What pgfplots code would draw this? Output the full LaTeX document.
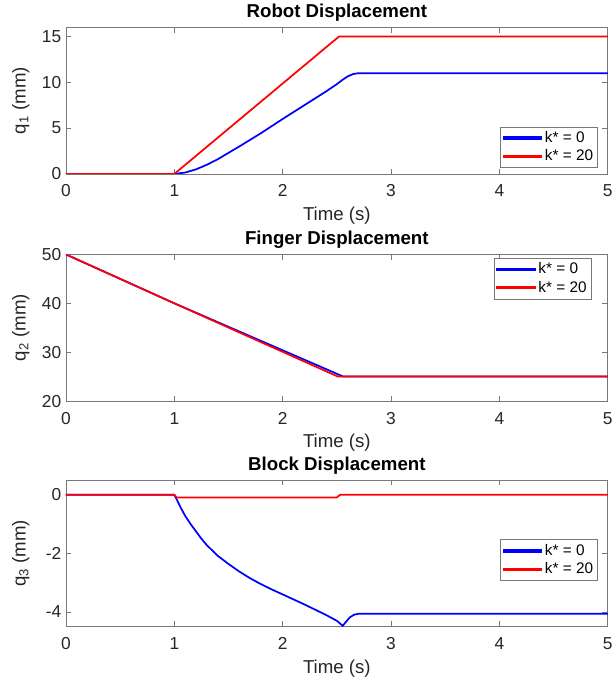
\documentclass[border=0pt]{standalone}
\usepackage{fontspec}
\setmainfont{Liberation Sans}
\usepackage{pgfplots}
\pgfplotsset{compat=1.18}

\definecolor{axgray}{RGB}{38,38,38}
\definecolor{boxgray}{RGB}{120,120,120}

\pgfplotsset{
  matlab/.style={
    scale only axis,
    width=406.5pt, height=110pt,
    xmin=0, xmax=5,
    xtick={0,1,2,3,4,5},
    axis line style={boxgray, line width=0.6pt},
    tick style={boxgray, line width=0.6pt},
    tick align=inside,
    major tick length=4pt,
    xtick pos=both, ytick pos=both,
    ticklabel style={font=\fontsize{13}{15}\selectfont, text=axgray},
    xticklabel style={anchor=base, yshift=-17.3pt},
    /pgf/number format/assume math mode=true,
    xlabel={Time (s)},
    every axis x label/.style={at={(axis description cs:0.5,0)}, anchor=base,
      yshift=-35pt, font=\fontsize{14}{16}\selectfont, text=axgray},
    every axis y label/.style={at={(axis description cs:-0.0836,0.5)}, anchor=center,
      rotate=90, font=\fontsize{14}{16}\selectfont, text=axgray},
    every axis title/.style={at={(axis description cs:0.5,1)}, anchor=base,
      yshift=7.5pt, font=\fontsize{14}{16}\selectfont\bfseries},
    legend style={font=\fontsize{11.5}{13}\selectfont, draw=boxgray,
      inner sep=1.5pt, row sep=0pt, cells={anchor=west}},
    % legend line drawn as a thin filled bar in the plot's colour
    legend image code/.code={\fill[##1] (0pt,-0.6pt) rectangle (28.5pt,0.6pt);},
    every axis plot/.append style={line width=1.3pt},
  }
}

\begin{document}
\begin{tikzpicture}
\useasboundingbox (-49.5pt,-41.5pt) rectangle (410.25pt,470.2pt);
% Robot displacement
\begin{axis}[matlab, at={(0,339.7pt)},
  title={Robot Displacement},
  ylabel={q\textsubscript{1} (mm)},
  ymin=0, ymax=16, ytick={0,5,10,15},
  legend style={at={(0.982,0.041)}, anchor=south east}]
\addplot[color=blue] coordinates {
  (0,0) (1.0,0) (1.1,0.15) (1.2,0.5) (1.3,1.0) (1.4,1.6) (1.5,2.3) (1.6,3.0)
  (1.8,4.45) (2.0,6.0) (2.2,7.5) (2.4,9.0) (2.5,9.8) (2.55,10.25) (2.6,10.65)
  (2.65,10.9) (2.7,11.0) (5,11.0)};
\addlegendentry{k* = 0}
\addplot[color=red] coordinates {
  (0,0) (1.0,0) (2.52,15) (5,15)};
\addlegendentry{k* = 20}
\end{axis}

% Finger displacement
\begin{axis}[matlab, at={(0,169.3pt)},
  title={Finger Displacement},
  ylabel={q\textsubscript{2} (mm)},
  ymin=20, ymax=50, ytick={20,30,40,50},
  legend style={at={(0.97,0.977)}, anchor=north east}]
\addplot[color=blue] coordinates {
  (0,50) (1.0,40) (2.56,25) (5,25)};
\addlegendentry{k* = 0}
\addplot[color=red] coordinates {
  (0,50) (1.0,40) (2.51,25) (5,25)};
\addlegendentry{k* = 20}
\end{axis}

% Block displacement
\begin{axis}[matlab, at={(0,0)},
  title={Block Displacement},
  ylabel={q\textsubscript{3} (mm)},
  ymin=-4.5, ymax=0.5, ytick={-4,-2,0},
  legend style={at={(0.982,0.595)}, anchor=north east}]
\addplot[color=blue] coordinates {
  (0,0) (1.0,0) (1.03,-0.22) (1.06,-0.45) (1.1,-0.72) (1.15,-1.0) (1.2,-1.25)
  (1.25,-1.5) (1.3,-1.72) (1.4,-2.08) (1.5,-2.36) (1.6,-2.62) (1.7,-2.85)
  (1.8,-3.05) (1.9,-3.23) (2.0,-3.4) (2.1,-3.57) (2.2,-3.74) (2.3,-3.92)
  (2.4,-4.1) (2.5,-4.3) (2.555,-4.47) (2.58,-4.35) (2.62,-4.18) (2.66,-4.09)
  (2.7,-4.06) (5,-4.06)};
\addlegendentry{k* = 0}
\addplot[color=red] coordinates {
  (0,0) (1.0,0) (1.02,-0.09) (2.5,-0.09) (2.53,0) (5,0)};
\addlegendentry{k* = 20}
\end{axis}
\end{tikzpicture}
\end{document}
